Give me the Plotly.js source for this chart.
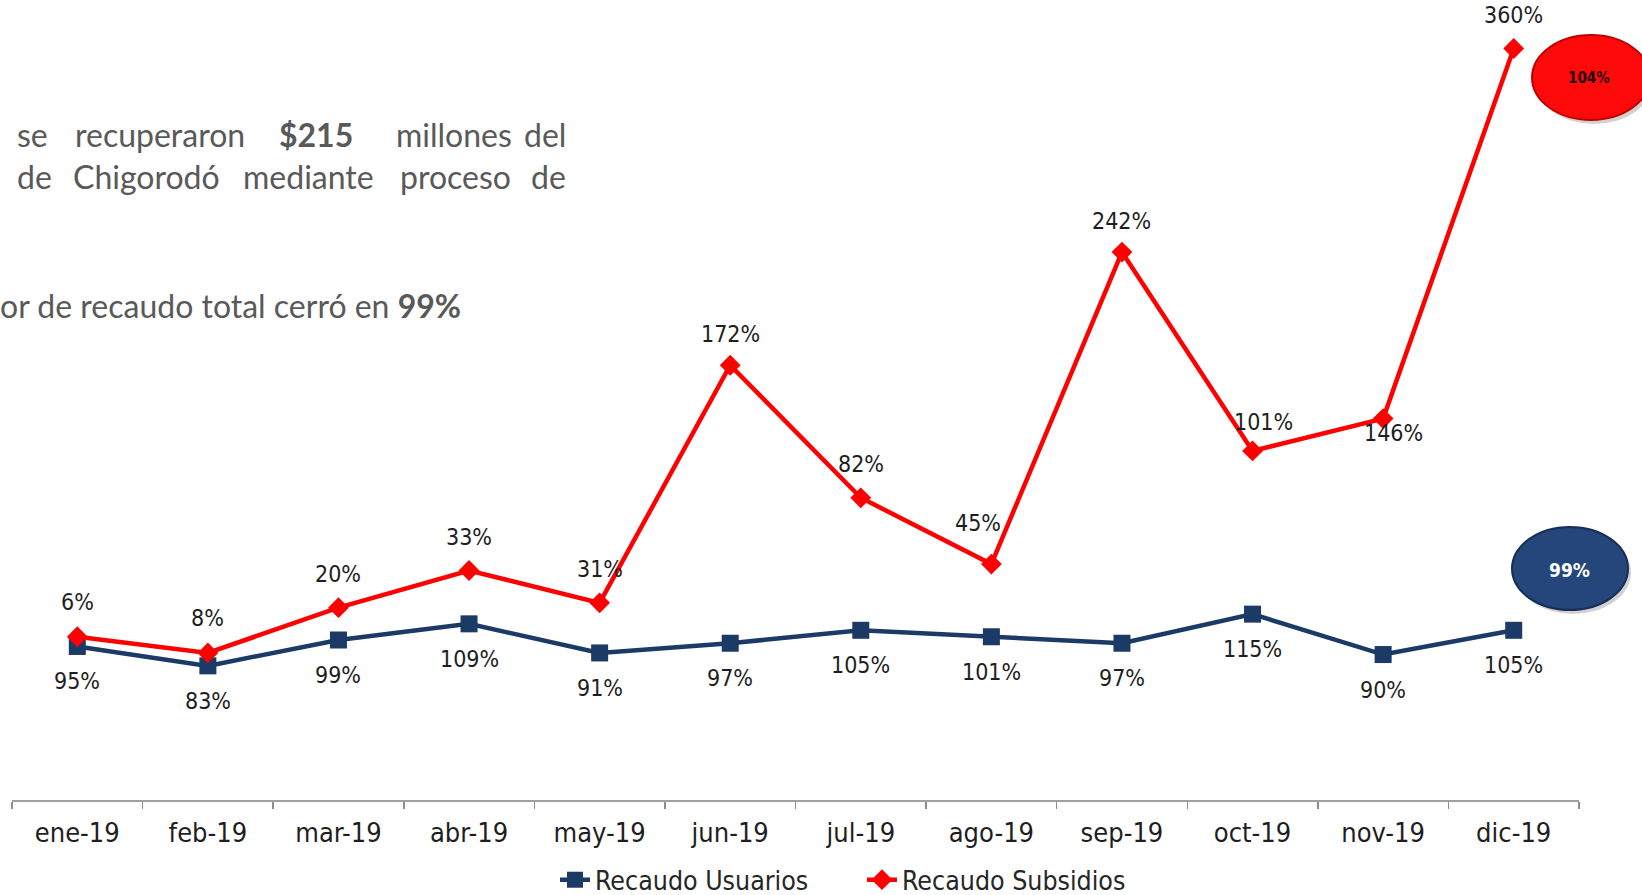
<!DOCTYPE html>
<html>
<head>
<meta charset="utf-8">
<script src="https://cdn.plot.ly/plotly-3.0.1.min.js"></script>
<style>html,body{margin:0;padding:0;background:#fff;}#chart{width:1642px;height:895px;}</style>
</head>
<body>
<div id="chart"></div>
<script>
// ---- data ----
const categorias = ['ene-19','feb-19','mar-19','abr-19','may-19','jun-19','jul-19','ago-19','sep-19','oct-19','nov-19','dic-19'];
const recaudoUsuarios = [95, 83, 99, 109, 91, 97, 105, 101, 97, 115, 90, 105];
const recaudoSubsidios = [6, 8, 20, 33, 31, 172, 82, 45, 242, 101, 146, 360];
const totalUsuarios = '99%';
const totalSubsidios = '104%';

// ---- layout helpers ----
const W = 1642, H = 895;
const M = {l: 12, r: 63, t: 0, b: 95, autoexpand: false};
const PW = W - M.l - M.r, PH = H - M.t - M.b;
const px = x => (x - M.l) / PW;
const py = y => (PH + M.t - y) / PH;

const labelFont = {family: 'DejaVu Sans Condensed', size: 23, color: '#1e1e1e'};
// label offsets in screen pixels [dx, dy] (dy positive = up)
const offUsu = categorias.map(() => [0, -35]);
const offSub = [[0,35],[0,35],[0,34],[0,34],[0,34],[0,31],[0,34],[-13,41],[0,31],[11,29],[10,-14],[0,33]];

const annotations = [];
categorias.forEach((c, i) => {
  annotations.push({x: c, y: recaudoUsuarios[i], xref: 'x', yref: 'y', text: recaudoUsuarios[i] + '%',
    showarrow: false, xanchor: 'center', yanchor: 'middle', xshift: offUsu[i][0], yshift: offUsu[i][1], font: labelFont});
  annotations.push({x: c, y: recaudoUsuarios[i] + recaudoSubsidios[i], xref: 'x', yref: 'y', text: recaudoSubsidios[i] + '%',
    showarrow: false, xanchor: 'center', yanchor: 'middle', xshift: offSub[i][0], yshift: offSub[i][1], font: labelFont});
});

// side text (cropped slide text)
const txtFont = {family: 'Lato', size: 32, color: '#595959'};
const line1 = [['se',15],['recuperaron',73],['<b>$215</b>',277],['millones',394]];
const line2 = [['de',15],['Chigorodó',71],['mediante',241],['proceso',398]];
line1.forEach(w => annotations.push({xref:'paper', yref:'paper', x: px(w[1]), y: py(135), xanchor:'left', yanchor:'middle', text: w[0], showarrow:false, font: txtFont}));
line2.forEach(w => annotations.push({xref:'paper', yref:'paper', x: px(w[1]), y: py(177), xanchor:'left', yanchor:'middle', text: w[0], showarrow:false, font: txtFont}));
annotations.push({xref:'paper', yref:'paper', x: px(568), y: py(135), xanchor:'right', yanchor:'middle', text:'del', showarrow:false, font: txtFont});
annotations.push({xref:'paper', yref:'paper', x: px(568), y: py(177), xanchor:'right', yanchor:'middle', text:'de', showarrow:false, font: txtFont});
annotations.push({xref:'paper', yref:'paper', x: px(-2), y: py(305), xanchor:'left', yanchor:'middle', text:'or de recaudo total cerró en <b>99%</b>', showarrow:false, font: txtFont});

// ellipse texts
annotations.push({xref:'paper', yref:'paper', x: px(1589), y: py(78), xanchor:'center', yanchor:'middle', text: '<b>' + totalSubsidios + '</b>', showarrow:false,
  font:{family:'DejaVu Sans Condensed', size: 15, color:'#200000'}});
annotations.push({xref:'paper', yref:'paper', x: px(1569), y: py(570), xanchor:'center', yanchor:'middle', text: '<b>' + totalUsuarios + '</b>', showarrow:false,
  font:{family:'DejaVu Sans Condensed', size: 19, color:'#ffffff'}});

function ell(x0, y0, x1, y1, fill, line, lw) {
  return {type:'circle', xref:'paper', yref:'paper', x0: px(x0), x1: px(x1), y0: py(y1), y1: py(y0),
    fillcolor: fill, line: {color: line, width: lw}, layer: 'above'};
}
const shapes = [
  ell(1535, 39, 1653, 124, 'rgba(0,0,0,0.18)', 'rgba(0,0,0,0)', 0),
  ell(1532, 35, 1650, 120, '#ff0a0a', '#c00000', 2),
  ell(1515, 531, 1631, 614, 'rgba(0,0,0,0.18)', 'rgba(0,0,0,0)', 0),
  ell(1512, 527, 1628, 610, '#24467a', '#172f57', 2)
];

const traces = [
  {x: categorias, y: recaudoUsuarios, name: 'Recaudo Usuarios', type: 'scatter', mode: 'lines+markers',
   stackgroup: 'uno', fill: 'none', line: {color: '#1b3a66', width: 4.5},
   marker: {symbol: 'square', size: 17, color: '#1b3a66'}, hoverinfo: 'skip'},
  {x: categorias, y: recaudoSubsidios, name: 'Recaudo Subsidios', type: 'scatter', mode: 'lines+markers',
   stackgroup: 'uno', fill: 'none', line: {color: '#ff0000', width: 4.5},
   marker: {symbol: 'diamond', size: 16, color: '#ff0000'}, hoverinfo: 'skip'}
];

const layout = {
  width: W, height: H, margin: M,
  paper_bgcolor: '#ffffff', plot_bgcolor: '#ffffff',
  showlegend: true,
  legend: {orientation: 'h', x: px(555), xanchor: 'left', y: py(880), yanchor: 'middle',
    font: {family: 'DejaVu Sans Condensed', size: 26.5, color: '#262626'}, entrywidth: 262, entrywidthmode: 'pixels',
    bgcolor: 'rgba(0,0,0,0)'},
  xaxis: {type: 'category', range: [-0.5, 11.5], tickson: 'boundaries', ticks: 'outside', ticklen: 7,
    tickcolor: '#8c8c8c', tickwidth: 1.5, showline: true, linecolor: '#a0a0a0', linewidth: 2,
    showgrid: false, zeroline: false, fixedrange: true, automargin: false, ticklabelstandoff: 8,
    tickfont: {family: 'DejaVu Sans Condensed', size: 27, color: '#1e1e1e'}},
  yaxis: {range: [0, 495], visible: false, showgrid: false, zeroline: false, fixedrange: true, automargin: false},
  annotations: annotations,
  shapes: shapes
};

Plotly.newPlot('chart', traces, layout, {displayModeBar: false, staticPlot: true});
</script>
</body>
</html>
